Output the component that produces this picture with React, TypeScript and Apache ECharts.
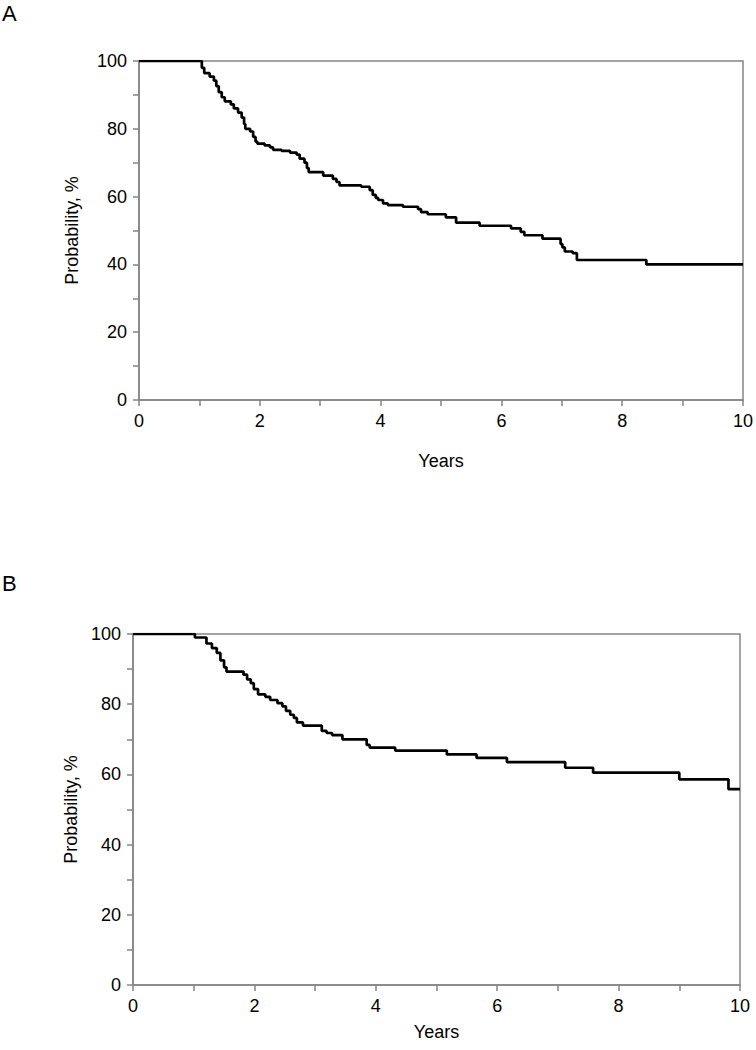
import React, { useEffect, useRef } from "react";
import * as echarts from "echarts";

// Panel A: Kaplan-Meier step points (years, probability %)
const timesA = [0, 1.04, 1.08, 1.17, 1.24, 1.28, 1.32, 1.37, 1.42, 1.52, 1.57, 1.64, 1.7, 1.74, 1.76, 1.84, 1.89, 1.93, 1.96, 2.08, 2.17, 2.22, 2.36, 2.5, 2.61, 2.66, 2.74, 2.78, 2.81, 3.05, 3.21, 3.27, 3.32, 3.68, 3.82, 3.87, 3.92, 3.96, 4.04, 4.12, 4.37, 4.62, 4.67, 4.78, 5.08, 5.25, 5.64, 6.16, 6.32, 6.38, 6.68, 6.98, 7.01, 7.05, 7.18, 7.25, 8.4, 10];
const survA = [100, 98, 96.4, 95.4, 94.2, 92.6, 90.8, 89.3, 88.1, 87.2, 86.0, 84.8, 83.3, 81.4, 80.0, 79.2, 77.6, 76.2, 75.6, 75.1, 74.5, 73.8, 73.5, 73.0, 72.4, 71.2, 70.0, 68.4, 67.2, 66.2, 65.2, 64.3, 63.3, 62.9, 61.9, 60.5, 59.6, 59.0, 58.0, 57.5, 57.0, 56.3, 55.4, 54.8, 53.9, 52.3, 51.4, 50.6, 49.6, 48.6, 47.6, 46.0, 45.0, 43.8, 43.3, 41.3, 40.0, 40.0];

// Panel B
const timesB = [0, 1.02, 1.21, 1.3, 1.38, 1.44, 1.5, 1.54, 1.82, 1.88, 1.94, 1.99, 2.06, 2.18, 2.26, 2.38, 2.46, 2.52, 2.59, 2.65, 2.7, 2.8, 3.11, 3.19, 3.28, 3.45, 3.85, 3.9, 4.32, 5.17, 5.66, 6.16, 7.12, 7.58, 9.0, 9.81, 10];
const survB = [100, 99.0, 97.3, 96.0, 94.6, 92.5, 90.5, 89.3, 88.4, 87.1, 86.0, 84.3, 82.8, 82.1, 81.2, 80.3, 79.4, 78.1, 77.0, 76.1, 74.8, 73.9, 72.4, 71.8, 71.2, 70.0, 68.4, 67.6, 66.8, 65.7, 64.7, 63.5, 61.9, 60.5, 58.6, 55.8, 55.8];

const xTicks = [0, 2, 4, 6, 8, 10];
const yTicks = [0, 20, 40, 60, 80, 100];

const FONT = "Liberation Sans, Arial, sans-serif";
const AXIS_GREY = "#858585";

function xAxisCfg(gridIndex: number, nameGap: number) {
  return {
    type: "value",
    gridIndex,
    min: 0,
    max: 10,
    interval: 1,
    name: "Years",
    nameLocation: "middle",
    nameGap,
    nameTextStyle: { fontFamily: FONT, fontSize: 18, color: "#000" },
    axisLine: { show: true, lineStyle: { color: AXIS_GREY, width: 1.5 } },
    axisTick: { show: true, length: 6, lineStyle: { color: AXIS_GREY, width: 1.5 } },
    axisLabel: {
      margin: 12,
      fontFamily: FONT,
      fontSize: 18,
      color: "#000",
      formatter: (v: number) => (xTicks.includes(v) ? String(v) : ""),
    },
    splitLine: { show: false },
  };
}

function yAxisCfg(gridIndex: number, nameGap: number) {
  return {
    type: "value",
    gridIndex,
    min: 0,
    max: 100,
    interval: 10,
    name: "Probability, %",
    nameLocation: "middle",
    nameGap,
    nameTextStyle: { fontFamily: FONT, fontSize: 18, color: "#000" },
    axisLine: { show: true, lineStyle: { color: AXIS_GREY, width: 1.5 } },
    axisTick: { show: true, length: 6, lineStyle: { color: AXIS_GREY, width: 1.5 } },
    axisLabel: {
      margin: 12,
      fontFamily: FONT,
      fontSize: 18,
      color: "#000",
      formatter: (v: number) => (yTicks.includes(v) ? String(v) : ""),
    },
    splitLine: { show: false },
  };
}

export default function App() {
  const ref = useRef<HTMLDivElement>(null);
  useEffect(() => {
    if (!ref.current) return;
    const chart = echarts.init(ref.current, undefined, { renderer: "svg" });
    const dataA = timesA.map((t, i) => [t, survA[i]]);
    const dataB = timesB.map((t, i) => [t, survB[i]]);
    chart.setOption({
      animation: false,
      backgroundColor: "#fff",
      grid: [
        { left: 139, top: 61, width: 605, height: 339, show: true, borderColor: AXIS_GREY, borderWidth: 1.5, backgroundColor: "transparent" },
        { left: 133, top: 634, width: 607, height: 351, show: true, borderColor: AXIS_GREY, borderWidth: 1.5, backgroundColor: "transparent" },
      ],
      xAxis: [xAxisCfg(0, 52), xAxisCfg(1, 38)],
      yAxis: [yAxisCfg(0, 58), yAxisCfg(1, 52)],
      graphic: [
        { type: "text", left: 2, top: 2, style: { text: "A", fontFamily: FONT, fontSize: 22, fill: "#000" } },
        { type: "text", left: 2, top: 572, style: { text: "B", fontFamily: FONT, fontSize: 22, fill: "#000" } },
      ],
      series: [
        {
          type: "line",
          xAxisIndex: 0,
          yAxisIndex: 0,
          step: "end",
          symbol: "none",
          data: dataA,
          lineStyle: { color: "#000", width: 2.7 },
        },
        {
          type: "line",
          xAxisIndex: 1,
          yAxisIndex: 1,
          step: "end",
          symbol: "none",
          data: dataB,
          lineStyle: { color: "#000", width: 2.7 },
        },
      ],
    });
    return () => chart.dispose();
  }, []);
  return (
    <div
      ref={ref}
      style={{ position: "absolute", left: 0, top: 0, width: 756, height: 1050, background: "#fff" }}
    />
  );
}
